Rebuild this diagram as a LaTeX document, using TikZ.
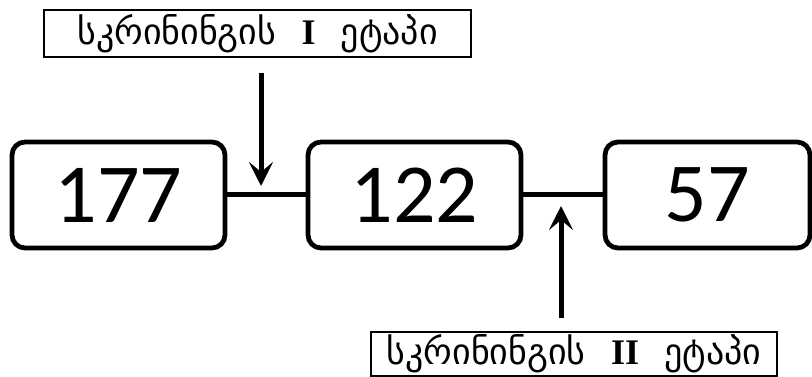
\documentclass[tikz,border=0pt]{standalone}
\usepackage{fontspec}
\setmainfont{Carlito}
\newfontfamily\geofont{DejaVu Sans}
\newfontfamily\romfont{Liberation Serif}
\usetikzlibrary{arrows.meta}
\tikzset{
  numbox/.style={draw, line width=4.8pt, rounded corners=13pt, minimum height=106pt, inner sep=0pt, font=\fontsize{84}{86}\selectfont},
  labelbox/.style={draw, line width=1.3pt, inner sep=0pt, font=\geofont\fontsize{36}{38}\selectfont},
  link/.style={line width=5pt},
  pointer/.style={line width=5pt, -{Stealth[length=24pt,width=24pt,inset=10pt]}}
}
\newcommand{\geotext}[1]{სკრინინგის\hspace{0.7em}{\romfont\bfseries #1}\hspace{0.7em}ეტაპი}
\begin{document}
\begin{tikzpicture}[x=1pt,y=-1pt]
\useasboundingbox (0,0) rectangle (812,377);
\node[numbox, minimum width=213pt] (b1) at (118.5,195) {177};
\node[numbox, minimum width=213pt] (b2) at (414.5,195) {122};
\node[numbox, minimum width=205pt] (b3) at (707.5,195) {57};
\node[labelbox, minimum width=427pt, minimum height=47pt] (t1) at (257.5,33.5) {\geotext{I}};
\node[labelbox, minimum width=406pt, minimum height=44pt] (t2) at (574,354) {\geotext{II}};
\draw[link] (b1.east) -- (b2.west);
\draw[link] (b2.east) -- (b3.west);
\coordinate (p1s) at (261,73);
\coordinate (p1e) at (261,186);
\coordinate (p2s) at (561,318);
\coordinate (p2e) at (561,206);
\draw[pointer] (p1s) -- (p1e);
\draw[pointer] (p2s) -- (p2e);
\end{tikzpicture}
\end{document}
